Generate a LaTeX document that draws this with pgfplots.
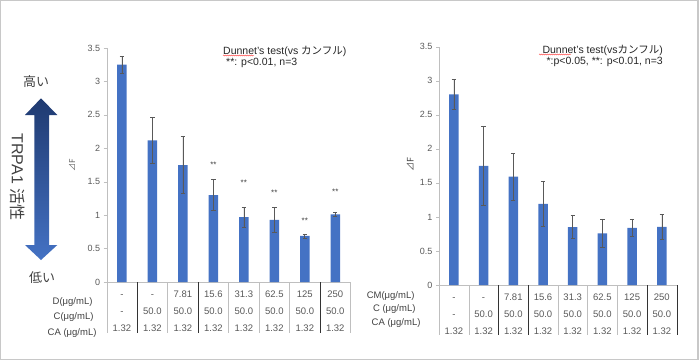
\documentclass[border=0pt]{standalone}
\usepackage{fontspec}
\setmainfont{Liberation Sans}
\newfontfamily\jp{Noto Sans CJK JP}
\usepackage{pgfplots}
\pgfplotsset{compat=1.18}
\usepackage{pgfplotstable}
\usetikzlibrary{decorations.pathmorphing}
\definecolor{barblue}{HTML}{4472C4}
\definecolor{txtgray}{HTML}{595959}
\definecolor{dkgray}{HTML}{404040}
\definecolor{axgray}{HTML}{BFBFBF}
\definecolor{navy}{HTML}{1F3A70}
\definecolor{framegray}{HTML}{C8C8C8}

\pgfplotstableread{
x y e
0 3.25 0.13
1 2.12 0.345
2 1.75 0.43
3 1.30 0.23
4 0.97 0.15
5 0.93 0.185
6 0.69 0.03
7 1.01 0.03
}\leftdata
\pgfplotstableread{
x y e
0 2.80 0.22
1 1.75 0.58
2 1.59 0.34
3 1.19 0.335
4 0.85 0.17
5 0.76 0.21
6 0.84 0.13
7 0.855 0.185
}\rightdata

\newcommand{\rr}[1]{\rule{0pt}{6.5pt}#1}
\pgfplotsset{mystyle/.style={
  scale only axis, xmin=-0.5, xmax=7.5, ymin=0, ymax=3.5,
  axis x line*=bottom, axis y line*=left,
  x axis line style={axgray}, y axis line style={axgray},
  ytick={0,0.5,1,1.5,2,2.5,3,3.5},
  yticklabel style={font=\fontsize{9}{10}\selectfont, color=txtgray},
  y tick style={axgray}, tick align=outside, major tick length=3pt,
  xtick={0,...,7}, x tick style={draw=none},
  xticklabel style={align=center, font=\fontsize{9.5}{17}\selectfont, color=txtgray, anchor=north, yshift=-2.5pt},
  /pgf/number format/assume math mode=true,
  clip=false,
  ybar, bar width=9.5pt,
}}

\begin{document}
\begin{tikzpicture}[x=1pt,y=1pt]
\path[use as bounding box] (0,0) rectangle (700,360);
\draw[framegray, line width=1.2pt] (0.8,0.8) rectangle (698,359.2);

% gradient double arrow
\shade[top color=navy, bottom color=barblue] (41,261.7) -- (57.3,245) -- (49,245) -- (49,115) -- (57.3,115) -- (41,100) -- (25,115) -- (34.3,115) -- (34.3,245) -- (25,245) -- cycle;
\node[font=\jp\fontsize{13}{14}\selectfont, text=dkgray] at (36,278) {高い};
\node[font=\jp\fontsize{13}{14}\selectfont, text=dkgray] at (42,82) {低い};
\node[rotate=-90, font=\fontsize{16}{18}\selectfont, text=dkgray] at (18,183) {TRPA1 {\jp 活性}};

% left chart
\begin{axis}[mystyle, at={(106.7pt,78pt)}, anchor=south west, width=243.8pt, height=234pt,
  xticklabels={{\rr{-}\\\rr{-}\\\rr{1.32}},{\rr{-}\\\rr{50.0}\\\rr{1.32}},{\rr{7.81}\\\rr{50.0}\\\rr{1.32}},{\rr{15.6}\\\rr{50.0}\\\rr{1.32}},{\rr{31.3}\\\rr{50.0}\\\rr{1.32}},{\rr{62.5}\\\rr{50.0}\\\rr{1.32}},{\rr{125}\\\rr{50.0}\\\rr{1.32}},{\rr{250}\\\rr{50.0}\\\rr{1.32}}}]
\addplot[fill=barblue, draw=none, error bars/.cd, y dir=both, y explicit,
  error bar style={color=txtgray, line width=0.6pt},
  error mark options={rotate=90, mark size=2.2pt, txtgray, line width=0.6pt}]
  table[x=x, y=y, y error=e]{\leftdata};
\node[font=\fontsize{8}{9}\selectfont, text=dkgray] at (axis cs:3,1.75) {**};
\node[font=\fontsize{8}{9}\selectfont, text=dkgray] at (axis cs:4,1.485) {**};
\node[font=\fontsize{8}{9}\selectfont, text=dkgray] at (axis cs:5,1.34) {**};
\node[font=\fontsize{8}{9}\selectfont, text=dkgray] at (axis cs:6,0.915) {**};
\node[font=\fontsize{8}{9}\selectfont, text=dkgray] at (axis cs:7,1.35) {**};
\draw[axgray] (axis cs:-0.5,0) -- ++(0pt,-51pt);
\draw[black!80] (axis cs:0.5,0) -- ++(0pt,-51pt);
\draw[axgray] (axis cs:1.5,0) -- ++(0pt,-51pt);
\draw[black!80] (axis cs:2.5,0) -- ++(0pt,-51pt);
\draw[axgray] (axis cs:3.5,0) -- ++(0pt,-51pt);
\draw[axgray] (axis cs:4.5,0) -- ++(0pt,-51pt);
\draw[axgray] (axis cs:5.5,0) -- ++(0pt,-51pt);
\draw[black!80] (axis cs:6.5,0) -- ++(0pt,-51pt);
\draw[axgray] (axis cs:7.5,0) -- ++(0pt,-51pt);
\end{axis}
\node[rotate=90, font=\jp\fontsize{8}{9}\selectfont, text=txtgray] at (72,195) {⊿F};
\node[anchor=east, font=\fontsize{9.5}{10}\selectfont, text=dkgray] at (96,58) {D(μg/mL)};
\node[anchor=east, font=\fontsize{9.5}{10}\selectfont, text=dkgray] at (97,43) {C(μg/mL)};
\node[anchor=east, font=\fontsize{9.5}{10}\selectfont, text=dkgray] at (100,27) {CA (μg/mL)};
\node[anchor=west, inner sep=0pt, font=\fontsize{10.5}{11}\selectfont, text=black!85] at (223,309) {Dunnet's test(vs {\jp カンフル})};
\node[anchor=west, inner sep=0pt, font=\fontsize{10.5}{11}\selectfont, text=black!85] at (226,297) {**: p<0.01, n=3};
\draw[red!80, line width=0.4pt, decorate, decoration={snake, amplitude=0.5pt, segment length=2pt}] (223,304.5) -- (254,304.5);

% right chart
\begin{axis}[mystyle, at={(439pt,75pt)}, anchor=south west, width=237.7pt, height=238.3pt,
  xticklabels={{\rr{-}\\\rr{-}\\\rr{1.32}},{\rr{-}\\\rr{50.0}\\\rr{1.32}},{\rr{7.81}\\\rr{50.0}\\\rr{1.32}},{\rr{15.6}\\\rr{50.0}\\\rr{1.32}},{\rr{31.3}\\\rr{50.0}\\\rr{1.32}},{\rr{62.5}\\\rr{50.0}\\\rr{1.32}},{\rr{125}\\\rr{50.0}\\\rr{1.32}},{\rr{250}\\\rr{50.0}\\\rr{1.32}}}]
\addplot[fill=barblue, draw=none, error bars/.cd, y dir=both, y explicit,
  error bar style={color=txtgray, line width=0.6pt},
  error mark options={rotate=90, mark size=2.2pt, txtgray, line width=0.6pt}]
  table[x=x, y=y, y error=e]{\rightdata};
\draw[axgray] (axis cs:-0.5,0) -- ++(0pt,-50pt);
\draw[axgray] (axis cs:0.5,0) -- ++(0pt,-50pt);
\draw[black!80] (axis cs:1.5,0) -- ++(0pt,-50pt);
\draw[black!80] (axis cs:2.5,0) -- ++(0pt,-50pt);
\draw[axgray] (axis cs:3.5,0) -- ++(0pt,-50pt);
\draw[axgray] (axis cs:4.5,0) -- ++(0pt,-50pt);
\draw[axgray] (axis cs:5.5,0) -- ++(0pt,-50pt);
\draw[black!80] (axis cs:6.5,0) -- ++(0pt,-50pt);
\draw[black!80] (axis cs:7.5,0) -- ++(0pt,-50pt);
\end{axis}
\node[rotate=90, font=\jp\fontsize{9}{10}\selectfont, text=dkgray] at (410,195) {⊿F};
\node[anchor=east, font=\fontsize{9.5}{10}\selectfont, text=dkgray] at (418,64) {CM(μg/mL)};
\node[anchor=east, font=\fontsize{9.5}{10}\selectfont, text=dkgray] at (419,51) {C (μg/mL)};
\node[anchor=east, font=\fontsize{9.5}{10}\selectfont, text=dkgray] at (424,37) {CA (μg/mL)};
\node[anchor=east, inner sep=0pt, font=\fontsize{10.5}{11}\selectfont, text=black!85] at (663,310) {Dunnet's test(vs{\jp カンフル})};
\node[anchor=east, inner sep=0pt, font=\fontsize{10.5}{11}\selectfont, text=black!85] at (663,298) {*:p<0.05, **: p<0.01, n=3};
\draw[red!80, line width=0.4pt, decorate, decoration={snake, amplitude=0.5pt, segment length=2pt}] (539,305.5) -- (571,305.5);
\end{tikzpicture}
\end{document}
